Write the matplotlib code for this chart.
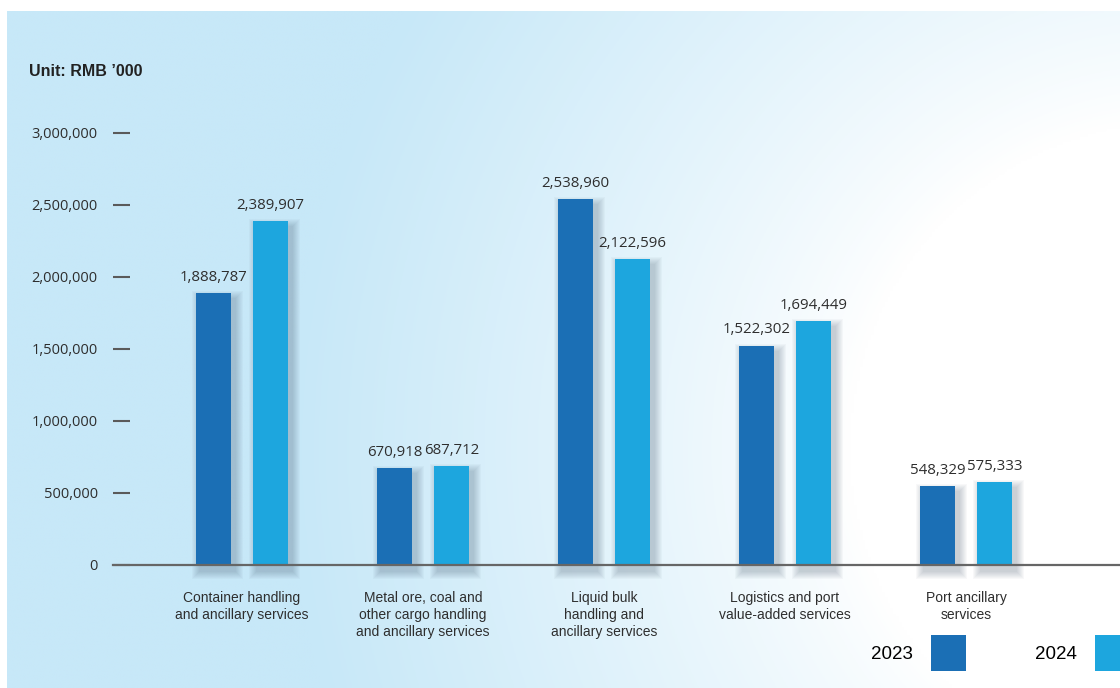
import numpy as np
import matplotlib
matplotlib.use("Agg")
import matplotlib.pyplot as plt
from matplotlib.patches import Patch

# ---- data (RMB '000) ----
categories = [
    "Container handling\nand ancillary services",
    "Metal ore, coal and\nother cargo handling\nand ancillary services",
    "Liquid bulk\nhandling and\nancillary services",
    "Logistics and port\nvalue-added services",
    "Port ancillary\nservices",
]
rev_2023 = [1888787, 670918, 2538960, 1522302, 548329]
rev_2024 = [2389907, 687712, 2122596, 1694449, 575333]
years = ["2023", "2024"]
yticks = [0, 500000, 1000000, 1500000, 2000000, 2500000, 3000000]

C_DARK = "#1b6fb5"
C_LIGHT = "#1da6de"
TXT = "#2e2e2e"
NUM_FONT = ["Open Sans", "DejaVu Sans"]
LBL_FONT = ["Liberation Sans", "DejaVu Sans"]

W, H = 1120, 688
fig = plt.figure(figsize=(W / 100, H / 100), dpi=100, facecolor="white")

# ---- background panel: light blue fading to white towards the right ----
bg = fig.add_axes([7 / W, 0, 1 - 7 / W, (H - 11) / H], zorder=-5)
gx, gy = np.meshgrid(np.linspace(7, W, 400), np.linspace(11, H, 250))
d = np.hypot(gx - 1180, gy - 450)
t = np.clip((d - 330) / 560, 0, 1) ** 0.85
blue = np.array([199, 232, 248]) / 255
img = (1 - t)[..., None] * np.ones(3) + t[..., None] * blue
bg.imshow(img, aspect="auto", extent=(0, 1, 0, 1), origin="upper")
bg.axis("off")

# ---- main axes ----
px_x = 181.0                      # px per group
x_left = (113 - 242) / px_x
x_right = (W - 242) / px_x
ax = fig.add_axes([113 / W, (H - 565) / H, (W - 113) / W, 432 / H])
ax.set_facecolor("none")
ax.set_xlim(x_left, x_right)
ax.set_ylim(0, 3000000)

x = np.arange(len(categories))
off = 28.5 / px_x
bw = 35 / px_x
py = 3000000 / 432               # data units per px (y)

# soft drop shadows
for k in range(1, 9):
    grow = k * 1.0
    for xs, vals in ((x - off, rev_2023), (x + off, rev_2024)):
        ax.bar(xs + 4 / px_x, np.array(vals) + 2 * grow * py, width=bw + 2 * grow / px_x,
               bottom=-(6 + grow) * py, color="#3a4f66", alpha=0.035, linewidth=0,
               zorder=1, clip_on=False)

b1 = ax.bar(x - off, rev_2023, width=bw, color=C_DARK, zorder=3, label=years[0])
b2 = ax.bar(x + off, rev_2024, width=bw, color=C_LIGHT, zorder=3, label=years[1])

for bars, vals in ((b1, rev_2023), (b2, rev_2024)):
    for r, v in zip(bars, vals):
        ax.annotate(f"{v:,}", (r.get_x() + r.get_width() / 2, v), xytext=(0, 6),
                    textcoords="offset points", ha="center", va="bottom",
                    fontsize=10.8, color=TXT, family=NUM_FONT, zorder=5)

# axes styling
for s in ("left", "top", "right"):
    ax.spines[s].set_visible(False)
ax.spines["bottom"].set_color("#666666")
ax.spines["bottom"].set_linewidth(1.6)
ax.spines["bottom"].set_zorder(4)

ax.set_yticks(yticks)
ax.set_yticklabels([f"{v:,}" for v in yticks], family=NUM_FONT, fontsize=10.5, color=TXT)
ax.tick_params(axis="y", direction="in", length=12.5, width=1.5, color="#5a5a5a", pad=11)

ax.set_xticks(x)
ax.set_xticklabels(categories, family=LBL_FONT, fontsize=10, color=TXT, linespacing=1.28)
ax.tick_params(axis="x", length=0, pad=18.5)

fig.text(29 / W, 1 - 72 / H, "Unit: RMB \u2019000", fontsize=11.5, fontweight="bold",
         color="#222222", family=LBL_FONT, va="center", ha="left")

# legend: label before square
handles = [Patch(facecolor=C_DARK), Patch(facecolor=C_LIGHT)]
fig.legend(handles, years, loc="center left", bbox_to_anchor=(871 / W, 1 - 653 / H),
           ncol=2, frameon=False, markerfirst=False, handlelength=1.87, handleheight=2.5,
           handletextpad=0.95, columnspacing=3.7, borderpad=0, borderaxespad=0,
           prop={"family": LBL_FONT, "size": 13.5})

fig.savefig("out.png", dpi=100, facecolor="white")
